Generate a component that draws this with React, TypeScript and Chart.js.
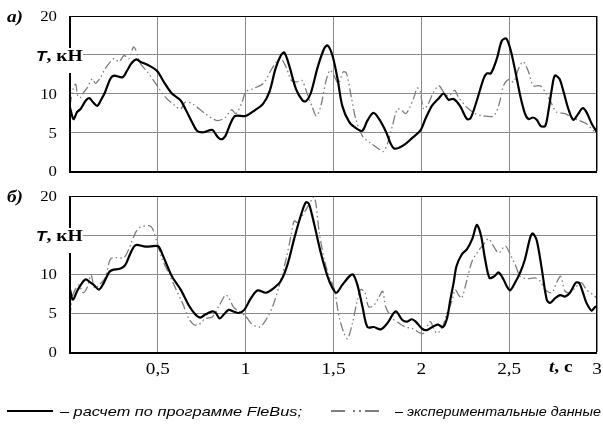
import { useEffect, useRef } from 'react';
import { Chart, registerables } from 'chart.js';

Chart.register(...registerables);

// Axis ticks
const timeTicks = [0, 0.5, 1, 1.5, 2, 2.5, 3];
const timeTickLabels = ['', '0,5', '1', '1,5', '2', '2,5', '3'];
const forceTicks = [0, 5, 10, 15, 20];
const forceTickLabels = ['0', '5', '10', '', '20'];

// Legend texts
const calcLabel = '– расчет по программе FleBus;';
const expLabel = '– экспериментальные данные';

// Panel а): [t, s ; T, kN]
const calcA: [number, number][] = [
  [0, 8.2], [0.02, 6.7], [0.04, 7.6], [0.06, 8.0], [0.09, 9.1], [0.11, 9.4], [0.13, 8.9], [0.155, 8.4],
  [0.175, 9.1], [0.2, 10.2], [0.23, 11.9], [0.25, 12.3], [0.3, 12.1], [0.326, 13.0], [0.35, 13.9],
  [0.377, 14.4], [0.4, 14.1], [0.45, 13.6], [0.496, 12.9], [0.534, 11.5], [0.58, 10.0], [0.63, 9.1],
  [0.657, 8.0], [0.695, 6.3], [0.723, 5.2], [0.76, 5.0], [0.81, 5.3], [0.837, 4.5], [0.86, 4.1],
  [0.884, 4.5], [0.913, 6.1], [0.94, 7.1], [1.0, 7.1], [1.05, 7.8], [1.1, 8.7], [1.135, 10.2],
  [1.17, 13.2], [1.2, 14.9], [1.22, 15.3], [1.248, 13.6], [1.286, 10.6], [1.324, 9.1], [1.343, 9.0],
  [1.37, 10.0], [1.41, 13.4], [1.447, 15.8], [1.466, 16.2], [1.494, 14.9], [1.523, 11.9], [1.55, 8.4],
  [1.59, 6.3], [1.636, 5.4], [1.665, 5.2], [1.693, 6.5], [1.727, 7.5], [1.76, 6.7], [1.8, 5.0],
  [1.826, 3.5], [1.845, 2.9], [1.873, 3.0], [1.91, 3.5], [1.95, 4.3], [1.994, 5.2], [2.023, 6.7],
  [2.06, 8.4], [2.1, 9.4], [2.127, 10.0], [2.155, 9.2], [2.184, 9.3], [2.22, 8.4], [2.26, 6.7],
  [2.28, 6.8], [2.316, 9.1], [2.354, 11.9], [2.373, 12.6], [2.396, 12.6], [2.43, 14.5], [2.458, 16.8],
  [2.483, 17.1], [2.506, 15.8], [2.534, 13.0], [2.563, 9.7], [2.59, 7.4], [2.61, 6.7], [2.635, 6.9],
  [2.657, 6.6], [2.68, 5.8], [2.705, 5.8], [2.724, 7.8], [2.743, 10.6], [2.76, 12.3], [2.786, 11.9],
  [2.81, 10.2], [2.837, 8.0], [2.865, 6.6], [2.894, 7.4], [2.917, 8.1], [2.94, 7.6], [2.97, 6.1], [3.0, 5.0],
];

const expA: [number, number][] = [
  [0, 8.4], [0.015, 10.4], [0.032, 11.2], [0.045, 9.6], [0.06, 9.5], [0.08, 10.2], [0.1, 10.8],
  [0.127, 11.9], [0.145, 11.3], [0.174, 12.1], [0.2, 13.2], [0.25, 14.5], [0.28, 14.1], [0.307, 14.9],
  [0.335, 14.5], [0.364, 16.0], [0.4, 13.9], [0.44, 12.8], [0.487, 11.3], [0.544, 9.5], [0.6, 8.4],
  [0.63, 8.0], [0.657, 8.9], [0.695, 8.7], [0.77, 7.4], [0.837, 6.5], [0.884, 6.9], [0.92, 7.9],
  [0.945, 7.4], [0.98, 8.9], [1.0, 10.2], [1.04, 10.6], [1.1, 11.3], [1.144, 13.0], [1.17, 13.9],
  [1.2, 14.5], [1.23, 13.4], [1.26, 11.7], [1.29, 11.5], [1.32, 11.7], [1.35, 10.0], [1.38, 8.2],
  [1.403, 7.1], [1.428, 8.4], [1.456, 11.5], [1.48, 13.0], [1.503, 12.3], [1.528, 11.3], [1.555, 12.8],
  [1.574, 12.6], [1.6, 9.7], [1.627, 6.7], [1.665, 4.5], [1.712, 3.6], [1.76, 2.8], [1.782, 2.5],
  [1.807, 3.5], [1.835, 5.8], [1.864, 8.0], [1.89, 7.8], [1.91, 7.4], [1.93, 8.0], [1.958, 9.5],
  [1.977, 10.7], [1.994, 10.2], [2.013, 8.0], [2.04, 8.7], [2.07, 10.2], [2.1, 11.0], [2.127, 10.2],
  [2.155, 9.7], [2.19, 10.4], [2.212, 9.5], [2.26, 8.2], [2.307, 7.4], [2.354, 7.1], [2.41, 7.1],
  [2.44, 8.4], [2.468, 11.0], [2.496, 11.8], [2.525, 11.5], [2.553, 13.2], [2.58, 14.1], [2.61, 12.8],
  [2.637, 11.0], [2.676, 11.0], [2.705, 10.2], [2.733, 9.1], [2.77, 7.6], [2.818, 7.4], [2.856, 6.9],
  [2.9, 6.5], [2.94, 6.1], [2.98, 5.2], [3.0, 5.0],
];

// Panel б): [t, s ; T, kN]
const calcB: [number, number][] = [
  [0, 8.0], [0.017, 6.7], [0.04, 7.8], [0.07, 8.9], [0.09, 9.3], [0.117, 8.9], [0.135, 8.6], [0.165, 8.0],
  [0.193, 8.9], [0.222, 10.2], [0.24, 10.5], [0.288, 10.7], [0.316, 11.2], [0.345, 12.7], [0.373, 13.7],
  [0.43, 13.5], [0.487, 13.6], [0.505, 13.5], [0.534, 12.1], [0.58, 9.7], [0.63, 8.0], [0.676, 6.0],
  [0.714, 4.8], [0.742, 4.4], [0.77, 4.8], [0.81, 5.2], [0.83, 5.0], [0.852, 4.3], [0.875, 4.8],
  [0.903, 5.4], [0.93, 5.2], [0.96, 5.0], [0.992, 5.4], [1.03, 6.9], [1.068, 7.9], [1.115, 7.6],
  [1.16, 8.2], [1.2, 9.1], [1.238, 11.2], [1.276, 14.5], [1.314, 17.5], [1.343, 19.2], [1.36, 19.0],
  [1.39, 16.4], [1.428, 12.7], [1.466, 9.7], [1.494, 8.2], [1.517, 7.6], [1.55, 8.6], [1.59, 9.7],
  [1.612, 9.9], [1.636, 8.6], [1.665, 5.8], [1.693, 3.2], [1.73, 3.2], [1.77, 2.9], [1.807, 3.7],
  [1.854, 5.2], [1.892, 4.1], [1.92, 3.9], [1.945, 4.2], [1.968, 3.9], [2.004, 3.0], [2.03, 2.8],
  [2.07, 3.3], [2.095, 3.5], [2.123, 3.2], [2.146, 4.3], [2.165, 6.7], [2.184, 8.9], [2.2, 11.0],
  [2.23, 12.5], [2.26, 13.2], [2.29, 14.5], [2.316, 16.3], [2.34, 14.9], [2.363, 11.9], [2.388, 9.5],
  [2.415, 9.7], [2.44, 10.2], [2.468, 9.3], [2.487, 8.4], [2.506, 7.9], [2.534, 8.9], [2.563, 10.2],
  [2.59, 11.9], [2.62, 14.7], [2.634, 15.2], [2.657, 14.3], [2.686, 10.6], [2.714, 6.7], [2.733, 6.3],
  [2.762, 6.9], [2.79, 7.3], [2.818, 7.1], [2.846, 7.6], [2.88, 8.9], [2.9, 8.8], [2.92, 7.6],
  [2.94, 6.3], [2.97, 5.3], [2.99, 5.8], [3.0, 5.8],
];

const expB: [number, number][] = [
  [0, 4.5], [0.012, 7.0], [0.03, 8.0], [0.05, 8.6], [0.075, 7.6], [0.1, 8.4], [0.12, 9.9], [0.14, 8.2],
  [0.17, 8.7], [0.2, 9.5], [0.23, 11.9], [0.26, 12.1], [0.307, 12.1], [0.335, 13.2], [0.373, 15.3],
  [0.4, 16.0], [0.45, 16.2], [0.47, 15.8], [0.496, 14.0], [0.525, 11.9], [0.56, 10.2], [0.6, 8.2],
  [0.64, 6.3], [0.676, 4.3], [0.705, 3.5], [0.733, 3.5], [0.77, 4.3], [0.81, 4.5], [0.846, 5.8],
  [0.884, 7.3], [0.9, 7.1], [0.93, 5.8], [0.96, 5.2], [1.0, 4.6], [1.03, 3.7], [1.078, 3.2],
  [1.115, 4.1], [1.153, 5.8], [1.19, 8.4], [1.23, 11.9], [1.258, 14.9], [1.276, 16.8], [1.295, 16.6],
  [1.31, 17.0], [1.35, 18.5], [1.39, 19.9], [1.419, 15.3], [1.447, 11.9], [1.475, 9.7], [1.503, 8.2],
  [1.532, 4.5], [1.56, 2.4], [1.58, 1.7], [1.608, 3.7], [1.636, 6.7], [1.655, 8.0], [1.68, 7.6],
  [1.7, 5.8], [1.73, 6.0], [1.76, 7.1], [1.78, 7.8], [1.797, 5.8], [1.835, 4.3], [1.873, 3.7],
  [1.91, 3.2], [1.95, 3.0], [1.987, 2.5], [2.013, 2.4], [2.05, 3.9], [2.07, 3.0], [2.09, 2.4],
  [2.12, 3.2], [2.146, 5.0], [2.174, 6.5], [2.193, 8.0], [2.212, 7.3], [2.23, 6.9], [2.26, 9.3],
  [2.29, 11.7], [2.326, 13.0], [2.354, 13.8], [2.383, 14.5], [2.41, 13.6], [2.44, 12.7], [2.477, 13.6],
  [2.506, 12.5], [2.534, 11.2], [2.563, 9.7], [2.6, 9.4], [2.648, 9.5], [2.676, 9.1], [2.705, 8.0],
  [2.743, 7.6], [2.77, 8.9], [2.793, 9.7], [2.818, 7.8], [2.846, 7.6], [2.875, 8.2], [2.91, 8.9],
  [2.94, 8.0], [2.98, 7.3], [3.0, 6.9],
];

const SERIF = '"Liberation Serif", "Times New Roman", serif';
const SANS = '"Liberation Sans", Arial, sans-serif';
const GRID = '#8a8a8a';
const EXP_COLOR = '#7d7d7d';
const EXP_DASH = [9, 3, 1.5, 3, 1.5, 3];

// Draws text stretched horizontally; returns advanced width
function drawText(
  ctx: CanvasRenderingContext2D,
  text: string,
  x: number,
  y: number,
  font: string,
  align: CanvasTextAlign,
  baseline: CanvasTextBaseline,
  sx: number,
): number {
  ctx.save();
  ctx.font = font;
  ctx.textAlign = align;
  ctx.textBaseline = baseline;
  ctx.fillStyle = '#000';
  ctx.translate(x, y);
  ctx.scale(sx, 1);
  ctx.fillText(text, 0, 0);
  const w = ctx.measureText(text).width * sx;
  ctx.restore();
  return w;
}

function measure(ctx: CanvasRenderingContext2D, text: string, font: string): number {
  ctx.save();
  ctx.font = font;
  const w = ctx.measureText(text).width;
  ctx.restore();
  return w;
}

function box(ctx: CanvasRenderingContext2D, x: number, y: number, w: number, h: number, color: string) {
  ctx.save();
  ctx.globalAlpha = 1;
  ctx.fillStyle = color;
  ctx.fillRect(x, y, w, h);
  ctx.restore();
}

type PanelOpts = { tag: string; timeLabels: boolean; legend: boolean };

function panelDecor(opts: PanelOpts) {
  return {
    id: 'panelDecor',
    afterDraw(chart: any) {
      const ctx: CanvasRenderingContext2D = chart.ctx;
      const a = chart.chartArea;
      const xs = chart.scales.x;
      const ys = chart.scales.y;
      const L = Math.round(a.left);
      const R = Math.round(a.right);
      const T = Math.round(a.top);
      const B = Math.round(a.bottom);
      const ty = Math.round(ys.getPixelForValue(15));

      // white backing behind the force title (hides axis and grid there)
      box(ctx, 33, ty - 7, 50, 25, '#fff');

      // plot frame
      box(ctx, L - 1, T, R - L + 1, 1, '#000');
      box(ctx, R - 1, T, 1, B - T + 1, '#000');
      box(ctx, L - 1, B, R - L + 1, 2, '#000');
      box(ctx, L - 1, T, 2, ty - 7 - T, '#000');
      box(ctx, L - 1, ty + 18, 2, B - ty - 18 + 2, '#000');

      // force tick labels
      forceTicks.forEach((v, i) => {
        const lab = forceTickLabels[i];
        if (!lab) return;
        drawText(ctx, lab, L - 13, ys.getPixelForValue(v) + 1.5, `15px ${SERIF}`, 'right', 'middle', 1.12);
      });

      // force title on the 15 kN line
      let cx = 36;
      cx += drawText(ctx, 'T', cx, ty + 5.5, `italic bold 15px ${SANS}`, 'left', 'alphabetic', 1.15);
      drawText(ctx, ', кН', cx, ty + 5.5, `bold 16px ${SERIF}`, 'left', 'alphabetic', 1.22);

      // panel tag
      drawText(ctx, opts.tag, 7, T + 6, `italic bold 16px ${SERIF}`, 'left', 'alphabetic', 1.2);

      if (opts.timeLabels) {
        timeTicks.forEach((v, i) => {
          const lab = timeTickLabels[i];
          if (!lab) return;
          drawText(ctx, lab, xs.getPixelForValue(v), B + 22, `16px ${SERIF}`, 'center', 'alphabetic', 1.2);
        });
        let tx = 549;
        tx += drawText(ctx, 't', tx, B + 20, `italic bold 16px ${SERIF}`, 'left', 'alphabetic', 1.2);
        drawText(ctx, ', с', tx, B + 20, `bold 16px ${SERIF}`, 'left', 'alphabetic', 1.2);
      }

      if (opts.legend) {
        const ly = B + 59;
        box(ctx, 7, ly - 1, 46, 2, '#000');
        ctx.save();
        ctx.strokeStyle = EXP_COLOR;
        ctx.lineWidth = 2;
        ctx.setLineDash([14, 8, 2, 4, 2, 4]);
        ctx.beginPath();
        ctx.moveTo(331, ly);
        ctx.lineTo(383, ly);
        ctx.stroke();
        ctx.restore();
        const lf = `italic 13px ${SANS}`;
        const w1 = measure(ctx, calcLabel, lf);
        drawText(ctx, calcLabel, 60, ly + 4.5, lf, 'left', 'alphabetic', 242 / w1);
        const w2 = measure(ctx, expLabel, lf);
        drawText(ctx, expLabel, 395, ly + 4.5, lf, 'left', 'alphabetic', 206 / w2);
      }
    },
  };
}

function makeConfig(
  calc: [number, number][],
  exp: [number, number][],
  xHeight: number,
  bottomPad: number,
  opts: PanelOpts,
): any {
  return {
    type: 'line',
    data: {
      datasets: [
        {
          label: 'calc',
          data: calc.map(([t, v]) => ({ x: t, y: v })),
          borderColor: '#000',
          borderWidth: 2.2,
          pointRadius: 0,
          tension: 0.3,
          fill: false,
        },
        {
          label: 'exp',
          data: exp.map(([t, v]) => ({ x: t, y: v })),
          borderColor: EXP_COLOR,
          borderWidth: 1.3,
          borderDash: EXP_DASH,
          pointRadius: 0,
          tension: 0.3,
          fill: false,
        },
      ],
    },
    options: {
      animation: false,
      responsive: false,
      maintainAspectRatio: false,
      events: [],
      layout: { padding: { top: 16, right: 6, left: 0, bottom: bottomPad } },
      plugins: { legend: { display: false }, tooltip: { enabled: false } },
      scales: {
        x: {
          type: 'linear',
          min: 0,
          max: 3,
          ticks: { display: false, stepSize: 0.5 },
          grid: { color: GRID, lineWidth: 1, drawTicks: false },
          border: { display: false },
          afterFit: (s: any) => {
            s.height = xHeight;
          },
        },
        y: {
          type: 'linear',
          min: 0,
          max: 20,
          ticks: { display: false, stepSize: 5 },
          grid: { color: GRID, lineWidth: 1, drawTicks: false },
          border: { display: false },
          afterFit: (s: any) => {
            s.width = 70;
          },
        },
      },
    },
    plugins: [panelDecor(opts)],
  };
}

export default function App() {
  const refA = useRef<HTMLCanvasElement | null>(null);
  const refB = useRef<HTMLCanvasElement | null>(null);

  useEffect(() => {
    const chartA = new Chart(refA.current as HTMLCanvasElement, makeConfig(calcA, expA, 9, 0, { tag: 'а)', timeLabels: false, legend: false }));
    const chartB = new Chart(refB.current as HTMLCanvasElement, makeConfig(calcB, expB, 28, 54, { tag: 'б)', timeLabels: true, legend: true }));
    return () => {
      chartA.destroy();
      chartB.destroy();
    };
  }, []);

  return (
    <div style={{ position: 'absolute', left: 0, top: 0, width: 603, height: 434, background: '#fff' }}>
      <canvas ref={refA} width={603} height={180} style={{ position: 'absolute', left: 0, top: 0, display: 'block' }} />
      <canvas ref={refB} width={603} height={254} style={{ position: 'absolute', left: 0, top: 180, display: 'block' }} />
    </div>
  );
}
